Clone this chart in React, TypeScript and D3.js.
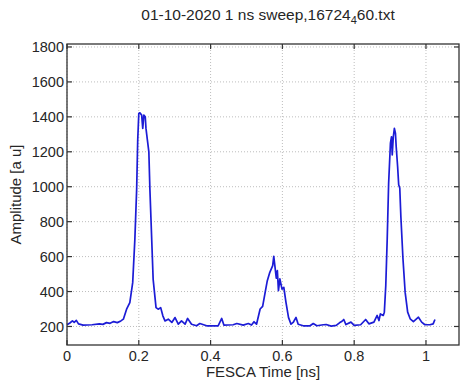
import React from "react";
import * as d3 from "d3";

const titleMain = "01-10-2020 1 ns sweep,16724";
const titleSub = "4";
const titleEnd = "60.txt";
const xLabel = "FESCA Time [ns]";
const yLabel = "Amplitude [a u]";

const xTicks = [0, 0.2, 0.4, 0.6, 0.8, 1];
const yTicks = [200, 400, 600, 800, 1000, 1200, 1400, 1600, 1800];

const timeNs = [
  0.0, 0.008, 0.015, 0.02, 0.026, 0.032, 0.045, 0.07, 0.09, 0.1, 0.11, 0.12, 0.13, 0.14, 0.15,
  0.157, 0.166, 0.175, 0.183, 0.189, 0.194, 0.197, 0.2, 0.203, 0.208, 0.211, 0.214, 0.218, 0.22,
  0.224, 0.228, 0.231, 0.236, 0.24, 0.248, 0.254, 0.261, 0.267, 0.273, 0.282, 0.292, 0.301, 0.31,
  0.319, 0.329, 0.336, 0.347, 0.361, 0.37, 0.389, 0.421, 0.431, 0.437, 0.463, 0.473, 0.491, 0.505,
  0.514, 0.521, 0.528, 0.538, 0.545, 0.552, 0.558, 0.565, 0.573, 0.576, 0.579, 0.583, 0.586, 0.589,
  0.593, 0.599, 0.604, 0.61, 0.617, 0.624, 0.63, 0.638, 0.644, 0.658, 0.677, 0.686, 0.696, 0.714,
  0.722, 0.736, 0.75, 0.759, 0.765, 0.771, 0.777, 0.791, 0.8, 0.818, 0.832, 0.841, 0.855, 0.864,
  0.869, 0.873, 0.881, 0.884, 0.888, 0.892, 0.896, 0.901, 0.904, 0.906, 0.909, 0.912, 0.915, 0.917,
  0.921, 0.924, 0.927, 0.93, 0.936, 0.942, 0.949, 0.956, 0.965, 0.979, 0.988, 0.997, 1.011, 1.02,
  1.025,
];
const amplitude = [
  210, 220, 232, 224, 235, 215, 208, 210, 215, 212, 222, 218, 228, 222, 232,
  242, 299, 337, 451, 697, 982, 1267, 1419, 1423, 1410, 1334, 1410, 1400, 1334,
  1267, 1200, 982, 697, 470, 308, 299, 308, 261, 232, 242, 223, 251, 213,
  232, 213, 246, 213, 204, 217, 204, 204, 246, 208, 210, 217, 208, 217,
  208, 227, 213, 300, 315, 395, 462, 510, 548, 602, 548, 476, 520, 405,
  472, 414, 424, 338, 252, 213, 223, 252, 213, 204, 204, 217, 204, 210,
  211, 202, 206, 221, 228, 240, 211, 225, 206, 210, 240, 215, 225, 263,
  234, 272, 263, 282, 433, 699, 1021, 1249, 1286, 1182, 1286, 1334, 1305, 1230,
  1116, 1011, 993, 831, 585, 395, 282, 244, 228, 253, 225, 210, 210, 215,
  240,
];

const W = 462;
const H = 381;
const left = 67;
const right = 459;
const top = 44;
const bottom = 345;

export default function App() {
  const x = d3.scaleLinear().domain([0, 1.092]).range([left, right]);
  const y = d3.scaleLinear().domain([94, 1817]).range([bottom, top]);
  const pts: [number, number][] = timeNs.map((t, i) => [t, amplitude[i]]);
  const line = d3
    .line<[number, number]>()
    .x((d) => x(d[0]))
    .y((d) => y(d[1]));
  const tickLen = 5;
  const font = "Arial, 'Liberation Sans', Helvetica, sans-serif";
  const axisColor = "#333";
  const textColor = "#262626";
  return (
    <svg
      width={W}
      height={H}
      style={{ position: "absolute", left: 0, top: 0, background: "#fff" }}
      fontFamily={font}
    >
      <rect x={0} y={0} width={W} height={H} fill="#fff" />
      {xTicks.map((t) => (
        <line
          key={"gx" + t}
          x1={x(t)}
          x2={x(t)}
          y1={top}
          y2={bottom}
          stroke="#bdbdbd"
          strokeWidth={1}
          strokeDasharray="1,2"
        />
      ))}
      {yTicks.map((t) => (
        <line
          key={"gy" + t}
          x1={left}
          x2={right}
          y1={y(t)}
          y2={y(t)}
          stroke="#bdbdbd"
          strokeWidth={1}
          strokeDasharray="1,2"
        />
      ))}
      <path
        d={line(pts) || ""}
        fill="none"
        stroke="#1c1cd6"
        strokeWidth={1.7}
        strokeLinejoin="round"
      />
      <rect
        x={left}
        y={top}
        width={right - left}
        height={bottom - top}
        fill="none"
        stroke={axisColor}
        strokeWidth={1.3}
      />
      {xTicks.map((t) => (
        <g key={"tx" + t}>
          <line x1={x(t)} x2={x(t)} y1={bottom} y2={bottom - tickLen} stroke={axisColor} strokeWidth={1.2} />
          <line x1={x(t)} x2={x(t)} y1={top} y2={top + tickLen} stroke={axisColor} strokeWidth={1.2} />
          <text x={x(t)} y={361} textAnchor="middle" fontSize={14.5} fill={textColor}>
            {t}
          </text>
        </g>
      ))}
      {yTicks.map((t) => (
        <g key={"ty" + t}>
          <line x1={left} x2={left + tickLen} y1={y(t)} y2={y(t)} stroke={axisColor} strokeWidth={1.2} />
          <line x1={right} x2={right - tickLen} y1={y(t)} y2={y(t)} stroke={axisColor} strokeWidth={1.2} />
          <text x={left - 3} y={y(t)} dy="0.35em" textAnchor="end" fontSize={14.5} fill={textColor}>
            {t}
          </text>
        </g>
      ))}
      <text x={(left + right) / 2} y={377} textAnchor="middle" fontSize={15} fill={textColor}>
        {xLabel}
      </text>
      <text
        transform={`translate(21,${(top + bottom) / 2}) rotate(-90)`}
        textAnchor="middle"
        fontSize={15}
        fill={textColor}
      >
        {yLabel}
      </text>
      <text x={(left + right) / 2 + 5} y={20} textAnchor="middle" fontSize={15.5} fill={textColor}>
        {titleMain}
        <tspan fontSize={11} dy={4}>
          {titleSub}
        </tspan>
        <tspan dy={-4}>{titleEnd}</tspan>
      </text>
    </svg>
  );
}
